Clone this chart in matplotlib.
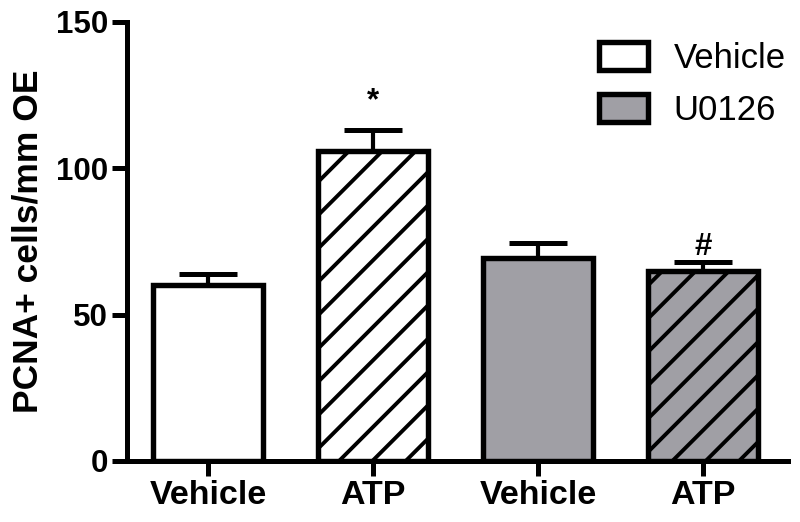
"""
PCNA+ cells per mm OE — Vehicle vs U0126, each with Vehicle / ATP.
"""

import matplotlib.pyplot as plt
from matplotlib.patches import Patch

# ── DATA ──────────────────────────────────────────────────────────────────────
tick_labels = ["Vehicle", "ATP", "Vehicle", "ATP"]
means       = [60, 106, 69.5, 65]
sem         = [4, 7, 5, 3]
groups      = ["Vehicle", "Vehicle", "U0126", "U0126"]
treatments  = ["Vehicle", "ATP", "Vehicle", "ATP"]
marks       = ["", "*", "", "#"]

# ── STYLE ─────────────────────────────────────────────────────────────────────
DPI   = 100
GRAY  = "#A09FA5"
FILL  = {"Vehicle": "white", "U0126": GRAY}
HATCH = {"Vehicle": None, "ATP": "/"}

plt.rcParams["font.family"] = ["Liberation Sans", "DejaVu Sans"]
plt.rcParams["hatch.linewidth"] = 2.8


def main():
    fig = plt.figure(figsize=(800 / DPI, 522 / DPI), dpi=DPI)
    ax = fig.add_axes([0.159, 0.117, 0.826, 0.841])

    x = list(range(len(means)))
    for i in x:
        ax.bar(i, means[i], width=0.67, color=FILL[groups[i]],
               edgecolor="black", linewidth=3.9, hatch=HATCH[treatments[i]],
               zorder=2)
    ax.errorbar(x, means, yerr=[[0] * len(sem), sem], fmt="none",
                ecolor="black", elinewidth=3.0, capsize=21, capthick=3.6,
                zorder=1)

    for i in x:
        if marks[i]:
            ax.text(i, means[i] + sem[i] + (10 if marks[i] == "*" else 5),
                    marks[i], ha="center", va="center",
                    fontsize=22.5, fontweight="bold")

    ax.set_xlim(-0.49, 3.515)
    ax.set_ylim(0, 150)
    ax.set_yticks([0, 50, 100, 150])
    ax.set_xticks(x)
    ax.set_xticklabels(tick_labels, fontsize=24.5, fontweight="bold")
    for lab in ax.get_yticklabels():
        lab.set_fontsize(22.5)
        lab.set_fontweight("bold")
    ax.set_ylabel("PCNA+ cells/mm OE", fontsize=25.5, fontweight="bold",
                  labelpad=8)

    for side in ("top", "right"):
        ax.spines[side].set_visible(False)
    for side in ("left", "bottom"):
        ax.spines[side].set_linewidth(3.6)
    ax.tick_params(axis="both", length=11, width=3.6, pad=3)

    handles = [Patch(facecolor=FILL[g], edgecolor="black", linewidth=3.9)
               for g in ("Vehicle", "U0126")]
    ax.legend(handles, ["Vehicle", "U0126"], loc="upper left",
              bbox_to_anchor=(585 / 800, 1 - 28 / 522),
              bbox_transform=fig.transFigure, frameon=False, fontsize=25,
              handlelength=1.4, handleheight=0.85, handletextpad=0.75,
              labelspacing=0.55, borderaxespad=0)

    fig.savefig("out.png", dpi=DPI)


if __name__ == "__main__":
    main()
